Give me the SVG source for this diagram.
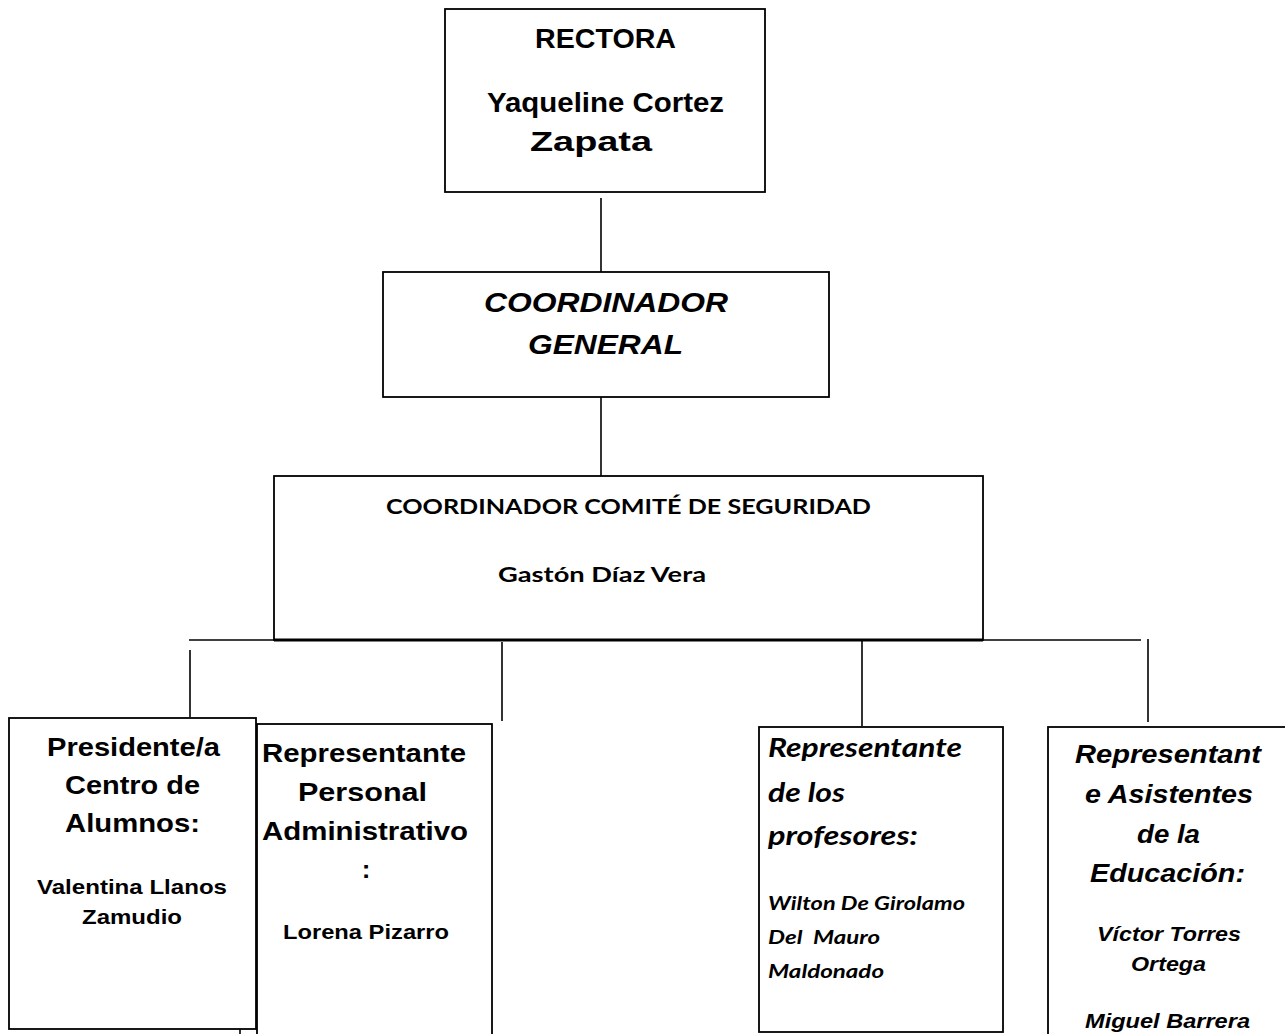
<svg xmlns="http://www.w3.org/2000/svg" width="1285" height="1034" viewBox="0 0 1285 1034">
<style>
.box{fill:#fff;stroke:#000;stroke-width:1.8}
.ln{stroke:#000;stroke-width:1.6;fill:none}
.a{font-family:"Liberation Sans",Arial,sans-serif;font-weight:bold;fill:#000}
.ai{font-family:"Liberation Sans",Arial,sans-serif;font-weight:bold;font-style:italic;fill:#000}
.l{font-family:Lato,"Liberation Sans",sans-serif;font-weight:bold;fill:#000}
.li{font-family:Lato,"Liberation Sans",sans-serif;font-weight:bold;font-style:italic;fill:#000}
</style>
<rect width="1285" height="1034" fill="#fff"/>
<g id="connectors">
<line class="ln" x1="601" y1="198" x2="601" y2="272"/>
<line class="ln" x1="601" y1="397" x2="601" y2="476"/>
<line class="ln" x1="189" y1="640" x2="1141" y2="640"/>
<line class="ln" x1="190" y1="650" x2="190" y2="717"/>
<line class="ln" x1="502" y1="642" x2="502" y2="721"/>
<line class="ln" x1="862" y1="637" x2="862" y2="726"/>
<line class="ln" x1="1148" y1="639" x2="1148" y2="722"/>
<line class="ln" x1="240" y1="1029" x2="240" y2="1034"/>
</g>
<g id="rectora">
<rect class="box" x="445" y="9" width="320" height="183"/>
<text class="a" x="535" y="48" font-size="27" textLength="141" lengthAdjust="spacingAndGlyphs">RECTORA</text>
<text class="a" x="487" y="112" font-size="28" textLength="237" lengthAdjust="spacingAndGlyphs">Yaqueline Cortez</text>
<text class="a" x="530" y="151" font-size="28" textLength="122" lengthAdjust="spacingAndGlyphs">Zapata</text>
</g>
<g id="coordinador-general">
<rect class="box" x="383" y="272" width="446" height="125"/>
<text class="ai" x="484" y="312" font-size="28" textLength="244" lengthAdjust="spacingAndGlyphs">COORDINADOR</text>
<text class="ai" x="528" y="354" font-size="28" textLength="155" lengthAdjust="spacingAndGlyphs">GENERAL</text>
</g>
<g id="comite">
<rect class="box" x="274" y="476" width="709" height="164"/>
<line x1="274" y1="640" x2="983" y2="640" stroke="#000" stroke-width="3"/>
<text class="l" x="386" y="514" font-size="21" textLength="485" lengthAdjust="spacingAndGlyphs">COORDINADOR COMITÉ DE SEGURIDAD</text>
<text class="l" x="498" y="582" font-size="21" textLength="208" lengthAdjust="spacingAndGlyphs">Gastón Díaz Vera</text>
</g>
<g id="presidente">
<rect class="box" x="9" y="718" width="247" height="311"/>
<text class="a" x="47" y="756" font-size="26" textLength="173" lengthAdjust="spacingAndGlyphs">Presidente/a</text>
<text class="a" x="65" y="794" font-size="26" textLength="135" lengthAdjust="spacingAndGlyphs">Centro de</text>
<text class="a" x="65" y="832" font-size="26" textLength="135" lengthAdjust="spacingAndGlyphs">Alumnos:</text>
<text class="a" x="37" y="894" font-size="21" textLength="190" lengthAdjust="spacingAndGlyphs">Valentina Llanos</text>
<text class="a" x="82" y="924" font-size="21" textLength="100" lengthAdjust="spacingAndGlyphs">Zamudio</text>
</g>
<g id="personal-administrativo">
<rect class="box" x="257" y="724" width="235" height="320"/>
<text class="a" x="262" y="762" font-size="26" textLength="204" lengthAdjust="spacingAndGlyphs">Representante</text>
<text class="a" x="298" y="801" font-size="26" textLength="129" lengthAdjust="spacingAndGlyphs">Personal</text>
<text class="a" x="262" y="840" font-size="26" textLength="206" lengthAdjust="spacingAndGlyphs">Administrativo</text>
<text class="a" x="366" y="878" font-size="26" text-anchor="middle">:</text>
<text class="a" x="283" y="939" font-size="21" textLength="166" lengthAdjust="spacingAndGlyphs">Lorena Pizarro</text>
</g>
<g id="profesores">
<rect class="box" x="759" y="727" width="244" height="305"/>
<text class="li" x="768" y="757" font-size="26" textLength="194" lengthAdjust="spacingAndGlyphs">Representante</text>
<text class="li" x="768" y="802" font-size="26" textLength="77" lengthAdjust="spacingAndGlyphs">de los</text>
<text class="li" x="768" y="845" font-size="26" textLength="150" lengthAdjust="spacingAndGlyphs">profesores:</text>
<text class="li" x="768" y="910" font-size="19" textLength="197" lengthAdjust="spacingAndGlyphs">Wilton De Girolamo</text>
<text class="li" x="768" y="944" font-size="19" textLength="112" lengthAdjust="spacingAndGlyphs" xml:space="preserve">Del  Mauro</text>
<text class="li" x="768" y="978" font-size="19" textLength="116" lengthAdjust="spacingAndGlyphs">Maldonado</text>
</g>
<g id="asistentes">
<rect class="box" x="1048" y="727" width="250" height="320"/>
<text class="ai" x="1075" y="763" font-size="26" textLength="186" lengthAdjust="spacingAndGlyphs">Representant</text>
<text class="ai" x="1085" y="803" font-size="26" textLength="168" lengthAdjust="spacingAndGlyphs">e Asistentes</text>
<text class="ai" x="1137" y="843" font-size="26" textLength="63" lengthAdjust="spacingAndGlyphs">de la</text>
<text class="ai" x="1090" y="882" font-size="26" textLength="155" lengthAdjust="spacingAndGlyphs">Educación:</text>
<text class="ai" x="1097" y="941" font-size="21" textLength="144" lengthAdjust="spacingAndGlyphs">Víctor Torres</text>
<text class="ai" x="1131" y="971" font-size="21" textLength="75" lengthAdjust="spacingAndGlyphs">Ortega</text>
<text class="ai" x="1085" y="1028" font-size="21" textLength="165" lengthAdjust="spacingAndGlyphs">Miguel Barrera</text>
</g>
</svg>
